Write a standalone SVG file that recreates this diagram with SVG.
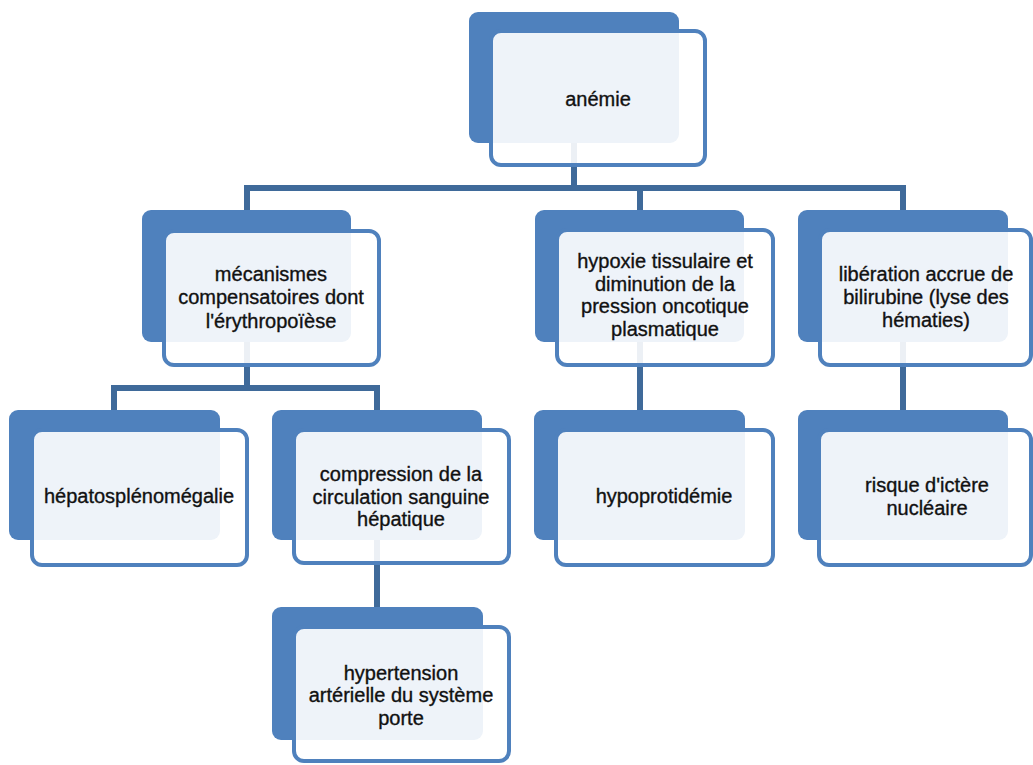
<svg xmlns="http://www.w3.org/2000/svg" width="1033" height="765" viewBox="0 0 1033 765">
<style>
.back{fill:#4F81BD}
.front{fill:#FFFFFF;fill-opacity:0.9;stroke:#4F81BD;stroke-width:4}
.conn{fill:none;stroke:#3F6A9A;stroke-width:6;stroke-linejoin:miter;stroke-linecap:butt}
text{font-family:"Liberation Sans",Arial,sans-serif;font-size:20px;fill:#111111;stroke:#111111;stroke-width:0.35;text-anchor:middle}
</style>
<rect width="1033" height="765" fill="#FFFFFF"/>
<g id="connectors">
<path class="conn" d="M574 143 V188"/>
<path class="conn" d="M247 210 V188 H903 V210"/>
<path class="conn" d="M640 188 V210"/>
<path class="conn" d="M247 342 V388"/>
<path class="conn" d="M114 410 V388 H377 V410"/>
<path class="conn" d="M640 342 V410"/>
<path class="conn" d="M903 342 V410"/>
<path class="conn" d="M377 540 V607"/>
</g>
<g id="n-anemie">
<rect class="back" x="469" y="12" width="210" height="131" rx="9"/>
<rect class="front" x="491" y="31" width="214" height="134" rx="10"/>
<text x="598" y="106">anémie</text>
</g>
<g id="n-mecanismes">
<rect class="back" x="142" y="210" width="209" height="132" rx="9"/>
<rect class="front" x="164" y="231" width="215" height="134" rx="10"/>
<text x="271" y="281">mécanismes</text>
<text x="271" y="304">compensatoires dont</text>
<text x="271" y="328">l'érythropoïèse</text>
</g>
<g id="n-hypoxie">
<rect class="back" x="535" y="210" width="209" height="132" rx="9"/>
<rect class="front" x="557" y="230" width="216" height="135" rx="10"/>
<text x="665" y="268">hypoxie tissulaire et</text>
<text x="665" y="291">diminution de la</text>
<text x="665" y="313">pression oncotique</text>
<text x="665" y="336">plasmatique</text>
</g>
<g id="n-liberation">
<rect class="back" x="798" y="210" width="210" height="132" rx="9"/>
<rect class="front" x="820" y="230" width="211" height="135" rx="10"/>
<text x="926" y="281">libération accrue de</text>
<text x="926" y="304">bilirubine (lyse des</text>
<text x="926" y="327">hématies)</text>
</g>
<g id="n-hepato">
<rect class="back" x="9" y="410" width="211" height="130" rx="9"/>
<rect class="front" x="32" y="430" width="215" height="135" rx="10"/>
<text x="139" y="503">hépatosplénomégalie</text>
</g>
<g id="n-compression">
<rect class="back" x="272" y="410" width="210" height="130" rx="9"/>
<rect class="front" x="294" y="430" width="215" height="133" rx="10"/>
<text x="401" y="481">compression de la</text>
<text x="401" y="504">circulation sanguine</text>
<text x="401" y="526">hépatique</text>
</g>
<g id="n-hypoprotidemie">
<rect class="back" x="534" y="410" width="211" height="130" rx="9"/>
<rect class="front" x="556" y="430" width="217" height="135" rx="10"/>
<text x="664" y="503">hypoprotidémie</text>
</g>
<g id="n-risque">
<rect class="back" x="798" y="410" width="210" height="130" rx="9"/>
<rect class="front" x="819" y="430" width="212" height="135" rx="10"/>
<text x="927" y="492">risque d'ictère</text>
<text x="927" y="515">nucléaire</text>
</g>
<g id="n-hypertension">
<rect class="back" x="272" y="607" width="211" height="133" rx="9"/>
<rect class="front" x="294" y="627" width="215" height="134" rx="10"/>
<text x="401" y="680">hypertension</text>
<text x="401" y="702">artérielle du système</text>
<text x="401" y="725">porte</text>
</g>
</svg>
